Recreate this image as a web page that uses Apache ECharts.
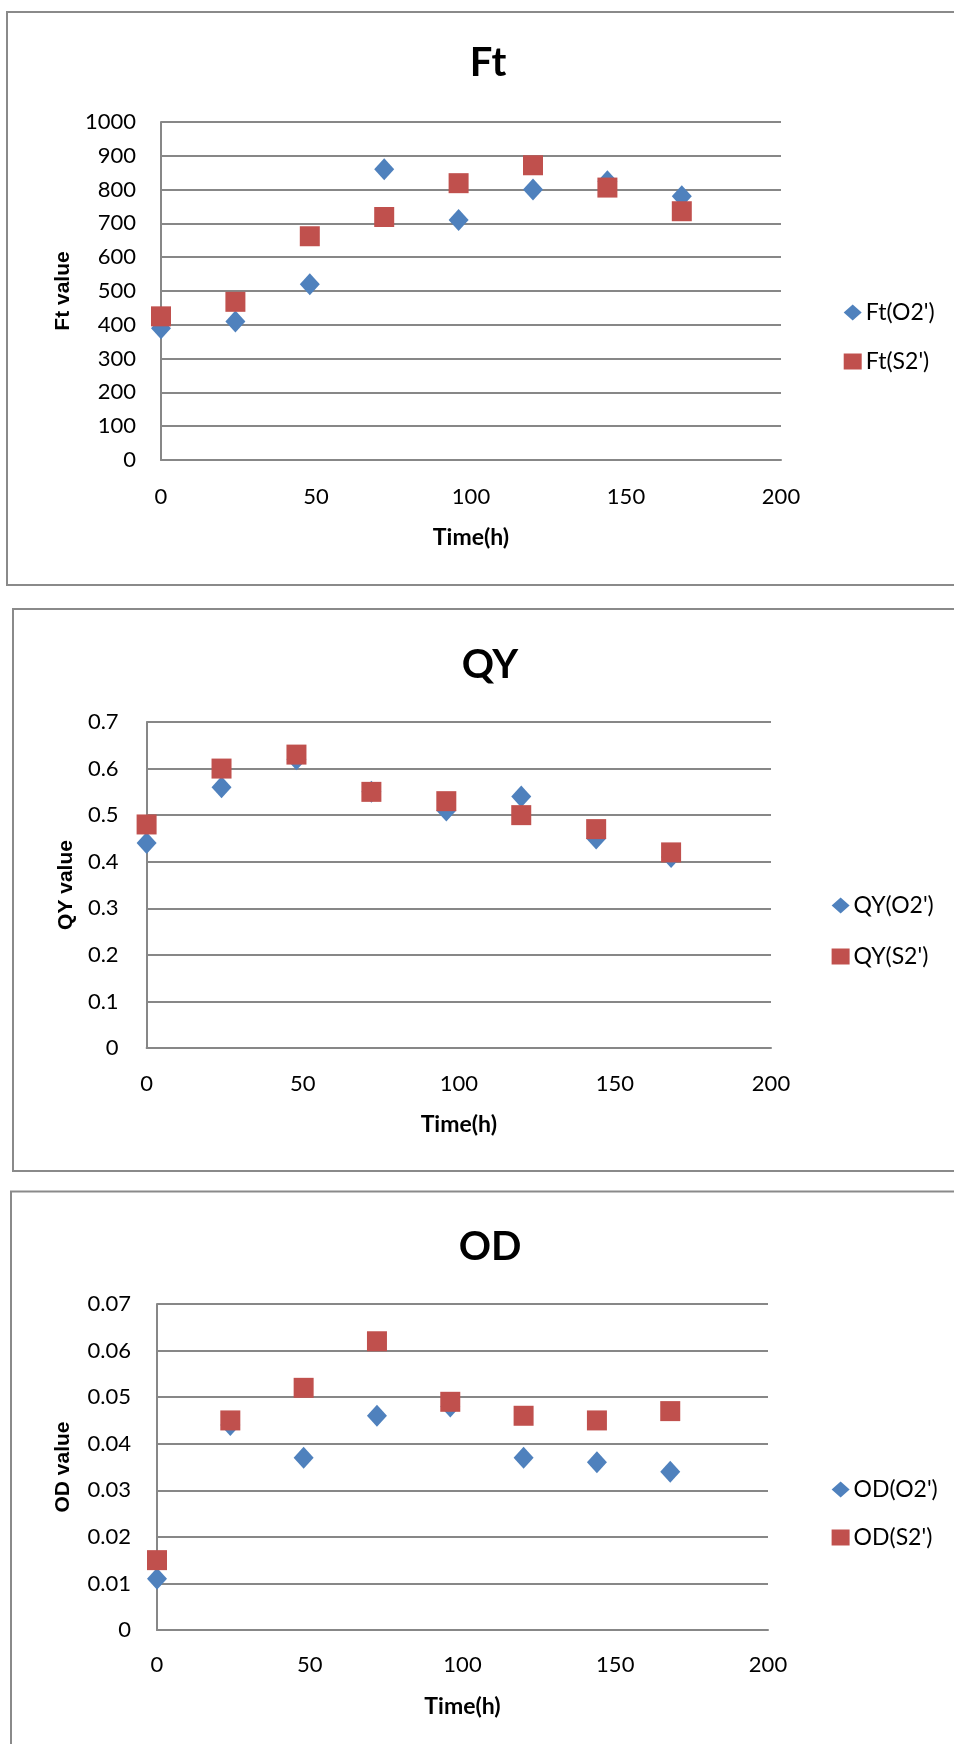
<!DOCTYPE html>
<html>
<head>
<meta charset="utf-8">
<script src="https://cdn.jsdelivr.net/npm/echarts@6/dist/echarts.min.js"></script>
<style>
html,body{margin:0;padding:0;background:#fff;overflow:hidden;}
#c{width:954px;height:1744px;}
</style>
</head>
<body>
<div id="c"></div>
<script>
// ---- data ----
const timeH = [0, 24, 48, 72, 96, 120, 144, 168];
const ftO2 = [390, 410, 520, 860, 710, 800, 825, 780];
const ftS2 = [425, 468, 662, 719, 819, 872, 806, 736];
const qyO2 = [0.44, 0.56, 0.62, 0.55, 0.51, 0.54, 0.45, 0.41];
const qyS2 = [0.48, 0.60, 0.63, 0.55, 0.53, 0.50, 0.47, 0.42];
const odO2 = [0.011, 0.044, 0.037, 0.046, 0.048, 0.037, 0.036, 0.034];
const odS2 = [0.015, 0.045, 0.052, 0.062, 0.049, 0.046, 0.045, 0.047];
const chartTitles = ['Ft', 'QY', 'OD'];
const yNames = ['Ft value', 'QY value', 'OD value'];
const seriesNames = [["Ft(O2')", "Ft(S2')"], ["QY(O2')", "QY(S2')"], ["OD(O2')", "OD(S2')"]];
const yMax = [1000, 0.7, 0.07];
const yStep = [100, 0.1, 0.01];
const yDecimals = [0, 1, 2];

const zip = (xs, ys) => xs.map((x, i) => [x, ys[i]]);
const values = [[ftO2, ftS2], [qyO2, qyS2], [odO2, odS2]];

// ---- layout ----
const L = [
  {frame:[7,12,1100,573], grid:{left:161,top:122,width:620,height:338}, title:[488,63], legend:[843.7,301,26], yGap:87, yMargin:25, xMargin:26, xGap:66},
  {frame:[13,609,1100,562], grid:{left:146.6,top:722,width:624.4,height:326}, title:[490,665], legend:[831.6,894,28], yGap:70, yMargin:28, xMargin:25, xGap:65},
  {frame:[11,1191.5,1100,700], grid:{left:157,top:1304,width:611,height:326}, title:[490,1247], legend:[831.6,1478,25], yGap:83, yMargin:26, xMargin:24, xGap:65}
];
const BLUE = '#4F81BD', RED = '#C0504D', GRID = '#878787';
const tickFont = {fontFamily:'Lato', fontSize:22, color:'#000'};

const option = {
  animation:false,
  backgroundColor:'#fff',
  title:[], legend:[], grid:[], xAxis:[], yAxis:[], series:[],
  graphic:[]
};

L.forEach((c, i) => {
  option.graphic.push({type:'rect', shape:{x:c.frame[0], y:c.frame[1], width:c.frame[2], height:c.frame[3]},
    style:{fill:'none', stroke:'#8A8A8A', lineWidth:2}, z:-1});
  option.title.push({text:chartTitles[i], left:c.title[0], top:c.title[1], padding:0,
    textAlign:'center', textVerticalAlign:'middle',
    textStyle:{fontFamily:'Lato', fontWeight:'bold', fontSize:40, color:'#000'}});
  option.grid.push(Object.assign({containLabel:false}, c.grid));
  option.xAxis.push({type:'value', gridIndex:i, min:0, max:200, interval:50,
    name:'Time(h)', nameLocation:'middle', nameGap:c.xGap, nameMoveOverlap:false,
    nameTextStyle:{fontFamily:'Lato', fontWeight:'bold', fontSize:23, color:'#000'},
    axisLine:{show:true, onZero:false, lineStyle:{color:GRID, width:2}},
    axisTick:{show:false}, splitLine:{show:false},
    axisLabel:Object.assign({margin:c.xMargin}, tickFont)});
  const dec = yDecimals[i];
  option.yAxis.push({type:'value', gridIndex:i, min:0, max:yMax[i], interval:yStep[i],
    name:yNames[i], nameLocation:'middle', nameGap:c.yGap, nameMoveOverlap:false,
    nameTextStyle:{fontFamily:'Liberation Sans', fontWeight:'bold', fontSize:21, color:'#000'},
    axisLine:{show:true, lineStyle:{color:GRID, width:2}},
    axisTick:{show:false},
    splitLine:{show:true, lineStyle:{color:GRID, width:2}},
    axisLabel:Object.assign({margin:c.yMargin, formatter:v => v === 0 ? '0' : v.toFixed(dec)}, tickFont)});
  option.legend.push({orient:'vertical', left:c.legend[0], top:c.legend[1], padding:0,
    itemGap:c.legend[2], itemWidth:18, itemHeight:16,
    textStyle:{fontFamily:'Lato', fontSize:23, color:'#000', padding:[0,0,0,-1]},
    data:[{name:seriesNames[i][0], icon:'diamond'}, {name:seriesNames[i][1], icon:'rect'}]});
  option.series.push({type:'scatter', name:seriesNames[i][0], xAxisIndex:i, yAxisIndex:i,
    symbol:'diamond', symbolSize:[20,22], itemStyle:{color:BLUE, opacity:1},
    data:zip(timeH, values[i][0])});
  option.series.push({type:'scatter', name:seriesNames[i][1], xAxisIndex:i, yAxisIndex:i,
    symbol:'rect', symbolSize:[20,20], itemStyle:{color:RED, opacity:1},
    data:zip(timeH, values[i][1])});
});

const chart = echarts.init(document.getElementById('c'), null, {renderer:'canvas', width:954, height:1744});
chart.setOption(option);
</script>
</body>
</html>
